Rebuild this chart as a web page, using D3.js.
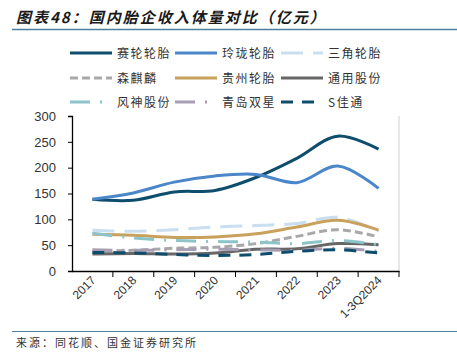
<!DOCTYPE html>
<html>
<head>
<meta charset="utf-8">
<script src="https://cdn.jsdelivr.net/npm/d3@7"></script>
<style>
  body { margin: 0; background: #fff; }
  svg text { font-family: "Noto Sans CJK SC", "Noto Sans", sans-serif; }
</style>
</head>
<body>
<div id="chart"></div>
<script>
// categories + series (亿元)
const years = ["2017", "2018", "2019", "2020", "2021", "2022", "2023", "1-3Q2024"];
const sailun    = [139, 137, 153, 156, 181, 218, 261, 236];
const linglong  = [139, 151, 172, 184, 187, 171, 203, 160];
const sanjiao   = [79, 77, 80, 85, 88, 92, 104, 77];
const senqilin  = [38, 40, 44, 46, 53, 67, 80, 66];
const guizhou   = [71, 69, 65, 66, 72, 85, 98, 79];
const tongyong  = [33, 34, 33, 35, 42, 43, 53, 51];
const fengshen  = [73, 64, 59, 57, 56, 53, 59, 51];
const shuangxing = [41, 40, 41, 42, 41, 40, 44, 38];
const jiatong   = [36, 35, 32, 30, 32, 38, 41, 35];
const yTicks = [0, 50, 100, 150, 200, 250, 300];

const series = [
  {name: "赛轮轮胎", values: sailun,   color: "#0f4d6d", dash: null},
  {name: "玲珑轮胎", values: linglong, color: "#4a86c8", dash: null},
  {name: "三角轮胎", values: sanjiao,  color: "#c9def0", dash: "22,10"},
  {name: "森麒麟",   values: senqilin, color: "#a8a8a8", dash: "8,4"},
  {name: "贵州轮胎", values: guizhou,  color: "#c8a25c", dash: null},
  {name: "通用股份", values: tongyong, color: "#676767", dash: null},
  {name: "风神股份", values: fengshen, color: "#8cc4c9", dash: "20,10,2,10"},
  {name: "青岛双星", values: shuangxing, color: "#a79eb3", dash: "20,10,2,10"},
  {name: "S佳通",    values: jiatong,  color: "#0f4d6d", dash: "12,9"}
];

const W = 457, H = 353;
const svg = d3.select("#chart").append("svg")
  .attr("width", W).attr("height", H);

// title
svg.append("text")
  .attr("x", 16).attr("y", 23)
  .style("font-size", "15px").style("font-weight", "bold").style("font-style", "italic")
  .style("letter-spacing", "2px").attr("fill", "#1a1a1a")
  .text("图表48：国内胎企收入体量对比（亿元）");
svg.append("line").attr("x1", 12).attr("x2", W).attr("y1", 29.5).attr("y2", 29.5)
  .attr("stroke", "#4f7f9c").attr("stroke-width", 1.5);

// legend
const legX = [70, 175, 281], legY = [53, 78, 102];
const leg = svg.append("g");
series.forEach((s, i) => {
  const cx = legX[i % 3], cy = legY[Math.floor(i / 3)];
  leg.append("line").attr("x1", cx).attr("x2", cx + 42).attr("y1", cy).attr("y2", cy)
    .attr("stroke", s.color).attr("stroke-width", 3)
    .attr("stroke-dasharray", s.dash);
  leg.append("text").attr("x", cx + 47).attr("y", cy + 4.5)
    .style("font-size", "12px").style("letter-spacing", "1.5px").attr("fill", "#333")
    .text(s.name);
});

// plot
const margin = {left: 72, right: 58, top: 116, bottom: 82};
const x = d3.scaleBand().domain(years).range([margin.left, W - margin.right]);
const y = d3.scaleLinear().domain([0, 300]).range([H - margin.bottom, margin.top]);

svg.append("line").attr("x1", W - margin.right).attr("x2", W - margin.right)
  .attr("y1", margin.top).attr("y2", H - margin.bottom).attr("stroke", "#d0d0d0");

const yAxis = svg.append("g").attr("transform", `translate(${margin.left},0)`)
  .call(d3.axisLeft(y).tickValues(yTicks).tickSize(4).tickPadding(12));
yAxis.selectAll("text").style("font-family", "Arial, 'Liberation Sans', sans-serif")
  .style("font-size", "13px").attr("fill", "#333");

const xAxis = svg.append("g").attr("transform", `translate(0,${H - margin.bottom})`)
  .call(d3.axisBottom(x).tickSize(0).tickFormat(""));
// ticks at band boundaries
xAxis.selectAll(".bnd").data(years).join("line").attr("class", "bnd")
  .attr("x1", d => x(d) + x.bandwidth()).attr("x2", d => x(d) + x.bandwidth())
  .attr("y1", 0).attr("y2", 6).attr("stroke", "#000");
xAxis.selectAll(".lbl").data(years).join("text").attr("class", "lbl")
  .attr("transform", d => `translate(${x(d) + x.bandwidth() / 2 + 4},${10}) rotate(-45)`)
  .attr("text-anchor", "end")
  .style("font-family", "Arial, 'Liberation Sans', sans-serif")
  .style("font-size", "12px").attr("fill", "#333")
  .text(d => d);
svg.selectAll(".domain").attr("stroke", "#000").attr("stroke-width", 1.3);

const line = d3.line()
  .x((d, i) => x(years[i]) + x.bandwidth() / 2)
  .y(d => y(d))
  .curve(d3.curveCatmullRom.alpha(0.5));

svg.append("g").selectAll("path").data(series).join("path")
  .attr("d", d => line(d.values))
  .attr("fill", "none")
  .attr("stroke", d => d.color)
  .attr("stroke-width", 3)
  .attr("stroke-dasharray", d => d.dash);

// footer
svg.append("line").attr("x1", 12).attr("x2", W).attr("y1", 331.5).attr("y2", 331.5)
  .attr("stroke", "#4f7f9c").attr("stroke-width", 1.2);
svg.append("text").attr("x", 16).attr("y", 347)
  .style("font-size", "11px").style("letter-spacing", "2px").attr("fill", "#333")
  .text("来源：同花顺、国金证券研究所");
</script>
</body>
</html>
